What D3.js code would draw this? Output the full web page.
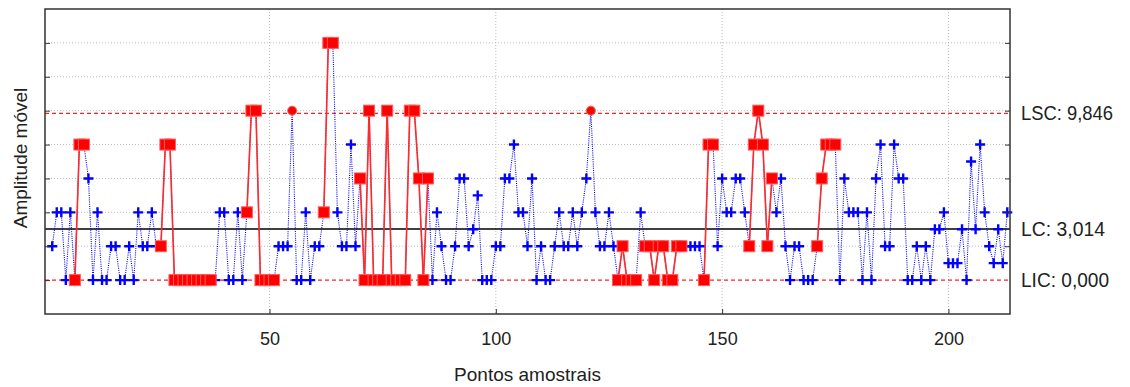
<!DOCTYPE html>
<html>
<head>
<meta charset="utf-8">
<script src="https://cdn.jsdelivr.net/npm/d3@7"></script>
<style>
  body { margin: 0; background: #fff; }
  text { font-family: "Liberation Sans", Arial, sans-serif; fill: #222; }
</style>
</head>
<body>
<svg id="chart" width="1130" height="387"></svg>
<script>
// moving range values, samples 2..213
const firstSample = 2;
const mrValues = [
  2, 4, 4, 0, 4, 0, 8, 8, 6, 0, 4, 0, 0, 2, 2, 0, 0, 2, 0, 4,   // 2-21
  2, 2, 4, 2, 2, 8, 8, 0, 0, 0, 0, 0, 0, 0, 0, 0, 0, 4, 4, 0,   // 22-41
  0, 4, 0, 4, 10, 10, 0, 0, 0, 0, 2, 2, 2, 10, 0, 0, 4, 0, 2, 2, // 42-61
  4, 14, 14, 4, 2, 2, 8, 2, 6, 0, 10, 0, 0, 0, 10, 0, 0, 0, 0, 10, // 62-81
  10, 6, 0, 6, 0, 4, 2, 0, 0, 2, 6, 6, 2, 3, 5, 0, 0, 0, 2, 2,  // 82-101
  6, 6, 8, 4, 4, 2, 6, 0, 2, 0, 0, 2, 4, 2, 2, 4, 2, 4, 6, 10,  // 102-121
  4, 2, 2, 4, 2, 0, 2, 0, 0, 0, 4, 2, 2, 0, 2, 2, 0, 0, 2, 2,   // 122-141
  2, 2, 2, 2, 0, 8, 8, 2, 6, 4, 4, 6, 6, 4, 2, 8, 10, 8, 2, 6,  // 142-161
  4, 6, 2, 0, 2, 2, 0, 0, 0, 2, 6, 8, 8, 8, 0, 6, 4, 4, 4, 0,   // 162-181
  4, 0, 6, 8, 2, 2, 8, 6, 6, 0, 0, 2, 0, 2, 0, 3, 3, 4, 1, 1,   // 182-201
  1, 3, 0, 7, 3, 8, 4, 2, 1, 3, 1, 4                             // 202-213
];
// samples flagged by run rules (red squares) and beyond the limit (red dots)
const flaggedSamples = [
  7, 8, 9, 26, 27, 28, 29, 30, 31, 32, 33, 34, 35, 36, 37,
  45, 46, 47, 48, 49, 50, 51, 62, 63, 64,
  70, 71, 72, 73, 74, 75, 76, 77, 78, 79, 80, 81, 82, 83, 84, 85,
  127, 128, 129, 130, 131, 133, 134, 135, 136, 137, 138, 139, 140, 141,
  146, 147, 148, 156, 157, 158, 159, 160, 161, 171, 172, 173, 174, 175
];
const outsideSamples = [55, 121];

const limitNames = ['LSC', 'LC', 'LIC'];
const limitValues = [9.846, 3.014, 0];
const limitLabels = ['LSC: 9,846', 'LC: 3,014', 'LIC: 0,000'];

const xTicks = [50, 100, 150, 200];
const yGrid = [2, 4, 6, 8, 10, 12, 14];

const margin = { left: 45, right: 1010, top: 9, bottom: 314 };
const svg = d3.select('#chart');

const x = d3.scaleLinear().domain([0.4, 213.6]).range([margin.left, margin.right]);
const y = d3.scaleLinear().domain([-2, 16]).range([margin.bottom, margin.top]);

const points = mrValues.map((v, i) => {
  const sample = firstSample + i;
  return {
    sample,
    value: v,
    flagged: flaggedSamples.includes(sample),
    outside: outsideSamples.includes(sample)
  };
});

// grid
const grid = svg.append('g').attr('class', 'grid');
grid.selectAll('.hgrid')
  .data(yGrid)
  .join('line')
  .attr('x1', margin.left)
  .attr('x2', margin.right)
  .attr('y1', d => y(d))
  .attr('y2', d => y(d))
  .style('stroke', '#bdbdbd')
  .style('stroke-dasharray', '1,2');
grid.selectAll('.vgrid')
  .data(xTicks)
  .join('line')
  .attr('x1', d => x(d))
  .attr('x2', d => x(d))
  .attr('y1', margin.top)
  .attr('y2', margin.bottom)
  .style('stroke', '#bdbdbd')
  .style('stroke-dasharray', '1,2');

// control limits
svg.selectAll('.limit')
  .data(limitValues)
  .join('line')
  .attr('x1', margin.left)
  .attr('x2', margin.right)
  .attr('y1', d => y(d))
  .attr('y2', d => y(d))
  .style('stroke', (d, i) => limitNames[i] === 'LC' ? '#000' : '#ff2020')
  .style('stroke-width', (d, i) => limitNames[i] === 'LC' ? 1.5 : 1.2)
  .style('stroke-dasharray', (d, i) => limitNames[i] === 'LC' ? null : '4,3');

// blue dotted line through every point
const line = d3.line().x(d => x(d.sample)).y(d => y(d.value));
svg.append('path')
  .datum(points)
  .attr('d', line)
  .style('fill', 'none')
  .style('stroke', '#0000ff')
  .style('stroke-width', 1.1)
  .style('stroke-dasharray', '1,1.2');

// red solid segments between consecutive flagged points
const redSegments = d3.pairs(points).filter(([a, b]) => a.flagged && b.flagged);
svg.selectAll('.red-seg')
  .data(redSegments)
  .join('line')
  .attr('x1', d => x(d[0].sample))
  .attr('y1', d => y(d[0].value))
  .attr('x2', d => x(d[1].sample))
  .attr('y2', d => y(d[1].value))
  .style('stroke', '#ff2a2a')
  .style('stroke-width', 1.6);

// markers
const crossSize = 5;
svg.selectAll('.cross')
  .data(points.filter(d => !d.flagged && !d.outside))
  .join('path')
  .attr('d', d => {
    const cx = x(d.sample);
    const cy = y(d.value);
    return `M${cx - crossSize},${cy}H${cx + crossSize}M${cx},${cy - crossSize}V${cy + crossSize}`;
  })
  .style('stroke', '#0000ff')
  .style('stroke-width', 2.4)
  .style('fill', 'none');

svg.selectAll('.square')
  .data(points.filter(d => d.flagged))
  .join('rect')
  .attr('x', d => x(d.sample) - 5.5)
  .attr('y', d => y(d.value) - 5.5)
  .attr('width', 11)
  .attr('height', 11)
  .style('fill', '#ff0000')
  .style('stroke', '#ff5c5c')
  .style('stroke-width', 1);

svg.selectAll('.dot')
  .data(points.filter(d => d.outside))
  .join('circle')
  .attr('cx', d => x(d.sample))
  .attr('cy', d => y(d.value))
  .attr('r', 4.5)
  .style('fill', '#ff0000')
  .style('stroke', '#ff5c5c');

// axes: ticks pointing inward
const xAxis = d3.axisBottom(x).tickValues(xTicks).tickSizeInner(-5).tickSizeOuter(0).tickPadding(18);
const gx = svg.append('g').attr('transform', `translate(0,${margin.bottom})`).call(xAxis);
gx.select('.domain').remove();
gx.selectAll('line').style('stroke', '#333');
gx.selectAll('text').style('font-size', '18px').style('fill', '#222');

const yLeft = d3.axisLeft(y).tickValues([0, ...yGrid]).tickSizeInner(-5).tickSizeOuter(0).tickFormat('');
const gyl = svg.append('g').attr('transform', `translate(${margin.left},0)`).call(yLeft);
gyl.select('.domain').remove();
gyl.selectAll('line').style('stroke', '#333');

const yRight = d3.axisRight(y).tickValues(yGrid).tickSizeInner(-5).tickSizeOuter(0).tickFormat('');
const gyr = svg.append('g').attr('transform', `translate(${margin.right},0)`).call(yRight);
gyr.select('.domain').remove();
gyr.selectAll('line').style('stroke', '#333');

// plot frame
svg.append('rect')
  .attr('x', margin.left)
  .attr('y', margin.top)
  .attr('width', margin.right - margin.left)
  .attr('height', margin.bottom - margin.top)
  .style('fill', 'none')
  .style('stroke', '#333')
  .style('stroke-width', 1.5);

// limit labels on the right
const labelWidths = [92, 84, 88];
svg.selectAll('.limit-label')
  .data(limitValues)
  .join('text')
  .attr('x', margin.right + 11)
  .attr('y', d => y(d))
  .attr('dy', '0.36em')
  .attr('textLength', (d, i) => labelWidths[i])
  .attr('lengthAdjust', 'spacingAndGlyphs')
  .style('font-size', '20px')
  .text((d, i) => limitLabels[i]);

// axis titles
svg.append('text')
  .attr('x', (margin.left + margin.right) / 2)
  .attr('y', 381)
  .style('text-anchor', 'middle')
  .style('font-size', '19px')
  .text('Pontos amostrais');

svg.append('text')
  .attr('transform', 'translate(27,158) rotate(-90)')
  .style('text-anchor', 'middle')
  .style('font-size', '19px')
  .text('Amplitude móvel');
</script>
</body>
</html>
